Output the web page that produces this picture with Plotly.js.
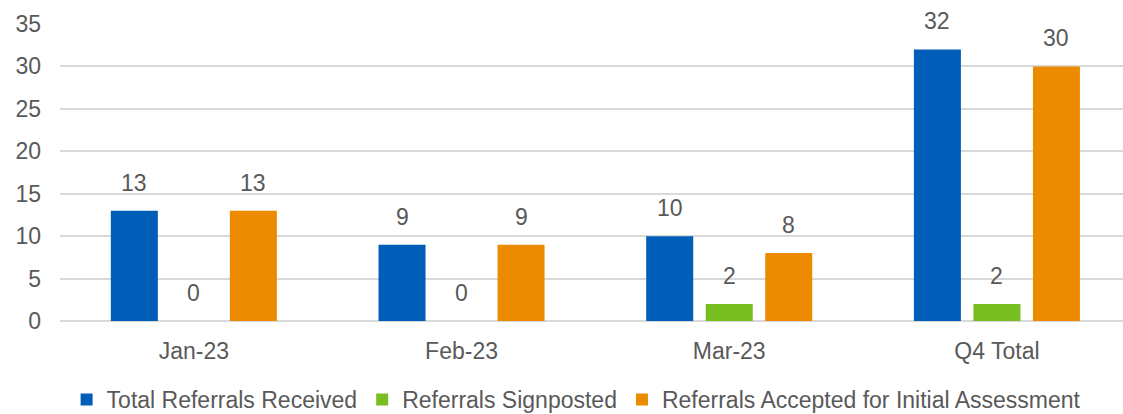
<!DOCTYPE html>
<html>
<head>
<meta charset="utf-8">
<script src="https://cdn.plot.ly/plotly-3.0.1.min.js"></script>
<style>html,body{margin:0;padding:0;background:#fff;}#chart{width:1123px;height:414px;}</style>
</head>
<body>
<div id="chart"></div>
<script>
const categories = ['Jan-23', 'Feb-23', 'Mar-23', 'Q4 Total'];
const seriesNames = ['Total Referrals Received', 'Referrals Signposted', 'Referrals Accepted for Initial Assessment'];
const totalReceived = [13, 9, 10, 32];
const signposted = [0, 0, 2, 2];
const accepted = [13, 9, 8, 30];
const colors = ['#005EB8', '#78BE20', '#ED8B00'];
const yTicks = [0, 5, 10, 15, 20, 25, 30, 35];

const FONT = '"Liberation Sans", Arial, sans-serif';
const TXT = '#595959';
const bargap = 0.333;
const bargroupgap = 0.21;

const seriesValues = [totalReceived, signposted, accepted];
const traces = seriesValues.map((vals, i) => ({
  type: 'bar',
  name: seriesNames[i],
  x: categories,
  y: vals,
  marker: {color: colors[i]},
  hoverinfo: 'skip'
}));

const slot = (1 - bargap) / seriesValues.length;
const annotations = [];
seriesValues.forEach((vals, s) => {
  const off = (s - (seriesValues.length - 1) / 2) * slot;
  vals.forEach((v, c) => {
    annotations.push({
      x: c + off, y: v, xref: 'x', yref: 'y',
      text: String(v), showarrow: false,
      yanchor: 'bottom', yshift: 13,
      font: {family: FONT, size: 23, color: TXT}
    });
  });
});

const layout = {
  width: 1123, height: 414,
  margin: {l: 60, r: 0, t: 24, b: 93, autoexpand: false},
  paper_bgcolor: '#fff', plot_bgcolor: '#fff',
  font: {family: FONT, size: 23, color: TXT},
  barmode: 'group',
  bargap: bargap,
  bargroupgap: bargroupgap,
  showlegend: true,
  legend: {
    orientation: 'h', xref: 'container', yref: 'container',
    x: 0.513, xanchor: 'center', y: 0.087, yanchor: 'top',
    font: {family: FONT, size: 23, color: TXT},
    itemwidth: 30, tracegroupgap: 0, traceorder: 'normal'
  },
  xaxis: {
    type: 'category',
    range: [-0.5, 3.471],
    showgrid: false, zeroline: false, showline: false,
    ticks: '', ticklabelstandoff: 14,
    tickfont: {family: FONT, size: 23, color: TXT},
    fixedrange: true
  },
  yaxis: {
    range: [0, 35],
    tickvals: yTicks,
    showgrid: true, gridcolor: '#d9d9d9', gridwidth: 2,
    zeroline: true, zerolinecolor: '#d9d9d9', zerolinewidth: 2,
    showline: false, ticks: '', ticklabelstandoff: 18,
    tickfont: {family: FONT, size: 23, color: TXT},
    fixedrange: true
  },
  annotations: annotations
};

Plotly.newPlot('chart', traces, layout, {displayModeBar: false, staticPlot: true});
</script>
</body>
</html>
